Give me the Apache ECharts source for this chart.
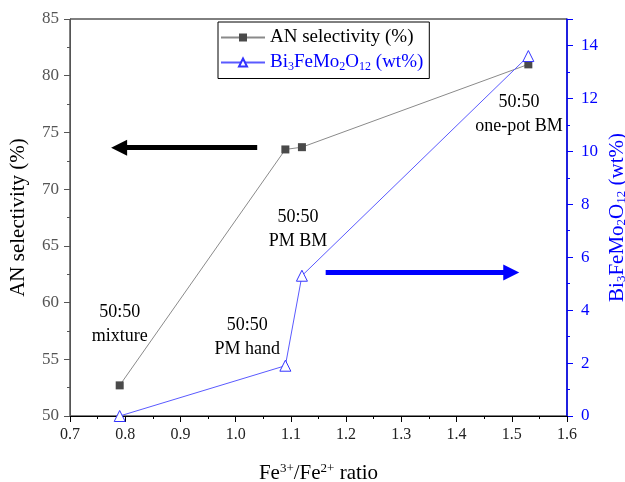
<!DOCTYPE html>
<html>
<head>
<meta charset="utf-8">
<script src="https://cdn.jsdelivr.net/npm/echarts@6/dist/echarts.min.js"></script>
<style>
  html, body { margin: 0; padding: 0; background: #fff; }
  #main { width: 625px; height: 482px; }
</style>
</head>
<body>
<div id="main"></div>
<script>
// data
var ratio = [0.79, 1.09, 1.12, 1.53];
var anSelectivity = [52.7, 73.5, 73.7, 81.0];
var bfmoContent = [0.0, 1.9, 5.3, 13.6];

// annotation texts and where they sit (x ratio, AN selectivity)
var noteTexts = ['50:50\nmixture', '50:50\nPM hand', '50:50\nPM BM', '50:50\none-pot BM'];
var notePos = [[0.790, 58.1], [1.021, 56.95], [1.113, 66.5], [1.513, 76.6]];

// arrows: [from, to]
var leftArrow = [[1.039, 73.65], [0.789, 73.65]];   // AN axis
var rightArrow = [[1.163, 5.42], [1.499, 5.42]];    // wt% axis

var serif = 'Liberation Serif';

var chartDom = document.getElementById('main');
var myChart = echarts.init(chartDom);
var option;

function pairs(xs, ys) {
    return xs.map(function (x, i) { return [x, ys[i]]; });
}

var subRich = {
    n: { fontFamily: serif, fontSize: 21, color: '#0000ff' },
    s: { fontFamily: serif, fontSize: 13, color: '#0000ff', verticalAlign: 'bottom', padding: [7, 0, 0, 0] }
};

function arrowLine(from, to, color) {
    return {
        silent: true,
        symbol: ['none', 'triangle'],
        symbolSize: 16,
        label: { show: false },
        lineStyle: { color: color, width: 5, type: 'solid', opacity: 1 },
        itemStyle: { color: color },
        emphasis: { disabled: true },
        data: [[{ coord: from }, { coord: to }]]
    };
}

option = {
    animation: false,
    textStyle: { fontFamily: serif },
    grid: {
        left: 70,
        right: 58,
        top: 19,
        bottom: 66,
        outerBoundsMode: 'none',
        show: true,
        borderColor: '#000',
        borderWidth: 1
    },
    legend: {
        orient: 'vertical',
        left: 218,
        top: 22,
        width: 210,
        padding: [6, 6, 6, 2],
        itemGap: 6,
        itemWidth: 44,
        itemHeight: 10,
        borderColor: '#000',
        borderWidth: 1,
        borderRadius: 0,
        data: [
            { name: 'AN selectivity (%)' },
            { name: 'BFMO', textStyle: { color: '#0000ff' } }
        ],
        formatter: function (name) {
            if (name === 'BFMO') {
                return '{n|Bi}{s|3}{n|FeMo}{s|2}{n|O}{s|12}{n| (wt%)}';
            }
            return name;
        },
        textStyle: {
            fontFamily: serif, fontSize: 19, color: '#000',
            rich: {
                n: { fontFamily: serif, fontSize: 19, color: '#0000ff' },
                s: { fontFamily: serif, fontSize: 12, color: '#0000ff', verticalAlign: 'bottom', padding: [8, 0, 0, 0] }
            }
        }
    },
    xAxis: {
        type: 'value',
        min: 0.7,
        max: 1.6,
        interval: 0.1,
        name: '{n|Fe}{p|3+}{n|/Fe}{p|2+}{n| ratio}',
        nameLocation: 'middle',
        nameGap: 46,
        nameTextStyle: {
            rich: {
                n: { fontFamily: serif, fontSize: 21, color: '#000' },
                p: { fontFamily: serif, fontSize: 13, color: '#000', verticalAlign: 'top', padding: [0, 0, 9, 0] }
            }
        },
        axisLine: { lineStyle: { color: '#000', width: 1 } },
        axisTick: { inside: false, length: 6, lineStyle: { color: '#000' } },
        minorTick: { show: true, splitNumber: 2, length: 3, lineStyle: { color: '#000' } },
        splitLine: { show: false },
        axisLabel: {
            fontFamily: serif, fontSize: 16, color: '#222', margin: 11,
            formatter: function (v) { return v.toFixed(1); }
        }
    },
    yAxis: [
        {
            type: 'value',
            min: 50,
            max: 85,
            interval: 5,
            name: 'AN selectivity (%)',
            nameLocation: 'middle',
            nameGap: 41,
            nameTextStyle: { fontFamily: serif, fontSize: 21, color: '#000' },
            axisLine: { show: true, lineStyle: { color: '#555', width: 1 } },
            axisTick: { inside: false, length: 6, lineStyle: { color: '#555' } },
            minorTick: { show: true, splitNumber: 2, length: 3, lineStyle: { color: '#555' } },
            splitLine: { show: false },
            axisLabel: { fontFamily: serif, fontSize: 17, color: '#555', margin: 11 }
        },
        {
            type: 'value',
            position: 'right',
            min: 0,
            max: 15,
            interval: 2,
            name: '{n|Bi}{s|3}{n|FeMo}{s|2}{n|O}{s|12}{n| (wt%)}',
            nameLocation: 'middle',
            nameRotate: 90,
            nameGap: 40,
            nameMoveOverlap: false,
            nameTextStyle: { rich: subRich },
            axisLine: { show: true, lineStyle: { color: '#0000ff', width: 1.5 } },
            axisTick: { inside: false, length: 6, lineStyle: { color: '#0000ff' } },
            minorTick: { show: true, splitNumber: 2, length: 3, lineStyle: { color: '#0000ff' } },
            splitLine: { show: false },
            axisLabel: { fontFamily: serif, fontSize: 17, color: '#0000ff', margin: 14, showMaxLabel: false }
        }
    ],
    series: [
        {
            name: 'AN selectivity (%)',
            type: 'line',
            yAxisIndex: 0,
            data: pairs(ratio, anSelectivity),
            symbol: 'rect',
            symbolSize: 8,
            itemStyle: { color: '#4a4a4a' },
            lineStyle: { color: '#8a8a8a', width: 1 },
            z: 3,
            markPoint: {
                silent: true,
                symbol: 'circle',
                symbolSize: 0,
                label: {
                    show: true,
                    position: 'inside',
                    fontFamily: serif,
                    fontSize: 18,
                    lineHeight: 24,
                    color: '#000',
                    formatter: function (p) { return p.name; }
                },
                data: noteTexts.map(function (t, i) {
                    return { name: t, coord: notePos[i] };
                })
            },
            markLine: arrowLine(leftArrow[0], leftArrow[1], '#000')
        },
        {
            name: 'BFMO',
            type: 'line',
            yAxisIndex: 1,
            data: pairs(ratio, bfmoContent),
            symbol: 'triangle',
            symbolSize: 11,
            itemStyle: { color: '#fff', borderColor: '#3333ff', borderWidth: 1 },
            lineStyle: { color: '#5a5aff', width: 1 },
            z: 4,
            markLine: arrowLine(rightArrow[0], rightArrow[1], '#0000ff')
        }
    ]
};

option && myChart.setOption(option);
</script>
</body>
</html>
